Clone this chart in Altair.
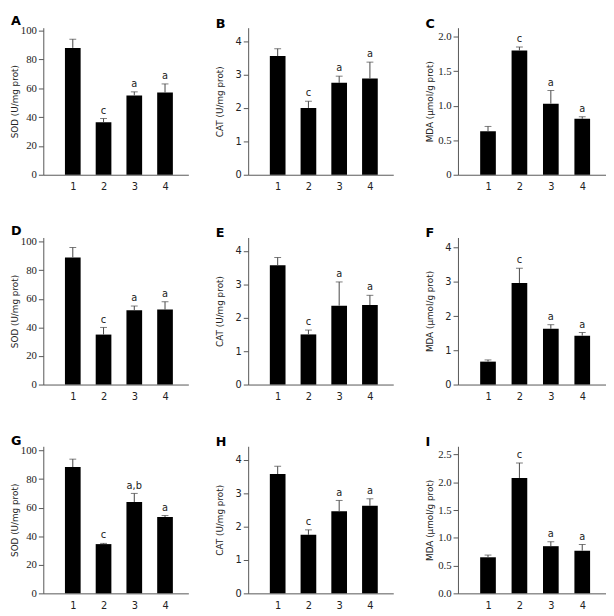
import altair as alt
import pandas as pd

groups = [1, 2, 3, 4]

a_mean = [88, 36.5, 55, 57]
a_err = [6, 2.5, 2.5, 6]
b_mean = [3.55, 2.0, 2.75, 2.88]
b_err = [0.22, 0.2, 0.2, 0.49]
c_mean = [0.63, 1.80, 1.03, 0.81]
c_err = [0.07, 0.05, 0.19, 0.03]
d_mean = [89, 35, 52, 52.5]
d_err = [7, 5, 3, 5.5]
e_mean = [3.57, 1.5, 2.36, 2.38]
e_err = [0.23, 0.13, 0.71, 0.29]
f_mean = [0.67, 2.97, 1.63, 1.43]
f_err = [0.05, 0.43, 0.12, 0.09]
g_mean = [88.5, 34.5, 64, 53.5]
g_err = [5.5, 0.5, 6, 1]
h_mean = [3.57, 1.75, 2.46, 2.62]
h_err = [0.23, 0.15, 0.32, 0.21]
i_mean = [0.65, 2.08, 0.85, 0.77]
i_err = [0.04, 0.27, 0.08, 0.11]

letters_std = ["", "c", "a", "a"]
letters_g = ["", "c", "a,b", "a"]

sod_ticks = [0, 20, 40, 60, 80, 100]
cat_ticks = [0, 1, 2, 3, 4]
mda_c_ticks = [0, 0.5, 1.0, 1.5, 2.0]
mda_f_ticks = [0, 1, 2, 3, 4]
mda_i_ticks = [0, 0.5, 1.0, 1.5, 2.0, 2.5]

SOD = "SOD (U/mg prot)"
CAT = "CAT (U/mg prot)"
MDA = "MDA (\u03bcmol/g prot)"

SERIF = "Liberation Serif"
SANS = "DejaVu Sans"
AX = "#555555"
TXT = "#222222"


def panel(label, ytitle, means, errs, letters, ymax, ticks, tickfont, label_expr, w=148):
    df = pd.DataFrame({"g": groups, "m": means, "e": errs, "t": letters})
    df["u"] = df["m"] + df["e"]
    base = alt.Chart(df)
    xs = alt.Scale(domain=[0.2, 4.6], nice=False, zero=False)
    ys = alt.Scale(domain=[0, ymax], nice=False)
    xa = alt.Axis(values=groups, ticks=False, grid=False, labelPadding=7, title=None,
                  format="d", labelFont=SANS, labelFontSize=10, labelOverlap=False,
                  labelColor=TXT, domainColor=AX)
    ya = alt.Axis(values=ticks, grid=False, title=ytitle, labelExpr=label_expr,
                  labelFont=tickfont, labelFontSize=11 if tickfont == SERIF else 10,
                  labelColor=TXT, labelOverlap=False, labelFlush=False,
                  tickSize=5, tickColor=AX, domainColor=AX, labelPadding=2,
                  minExtent=23, maxExtent=23, titlePadding=1, titleFont=SANS,
                  titleFontSize=9, titleFontWeight="normal", titleColor=TXT)
    x = alt.X("g:Q", scale=xs, axis=xa)
    bars = base.mark_bar(color="black", width=16).encode(
        x=x, y=alt.Y("m:Q", scale=ys, axis=ya))
    rule = base.mark_rule(color="#444444", strokeWidth=1).encode(
        x=x, y=alt.Y("m:Q", scale=ys, axis=ya), y2="u:Q")
    cap = base.mark_tick(orient="horizontal", size=7, thickness=1, color="#444444").encode(
        x=x, y=alt.Y("u:Q", scale=ys, axis=ya))
    txt = base.mark_text(baseline="bottom", dy=-3, font=SANS, fontSize=10, color=TXT).encode(
        x=x, y=alt.Y("u:Q", scale=ys, axis=ya), text="t:N")
    return alt.layer(bars, rule, cap, txt).properties(
        width=w, height=150,
        title=alt.TitleParams(label, anchor="start", frame="group", dx=-33, offset=-3,
                              fontSize=13, font=SANS, fontWeight="bold", color="black"))


fmt_int = "format(datum.value, 'd')"
fmt_c = "datum.value == 0 ? '0' : format(datum.value, '.1f')"
fmt_i = "format(datum.value, '.1f')"


def row(p1, p2, p3):
    return alt.hconcat(alt.hconcat(p1, p2, spacing=28), p3, spacing=33)


row1 = row(
    panel("A", SOD, a_mean, a_err, letters_std, 102, sod_ticks, SERIF, fmt_int),
    panel("B", CAT, b_mean, b_err, letters_std, 4.4, cat_ticks, SANS, fmt_int),
    panel("C", MDA, c_mean, c_err, letters_std, 2.13, mda_c_ticks, SERIF, fmt_c, w=151))
row2 = row(
    panel("D", SOD, d_mean, d_err, letters_std, 103, sod_ticks, SERIF, fmt_int),
    panel("E", CAT, e_mean, e_err, letters_std, 4.4, cat_ticks, SANS, fmt_int),
    panel("F", MDA, f_mean, f_err, letters_std, 4.3, mda_f_ticks, SANS, fmt_int, w=151))
row3 = row(
    panel("G", SOD, g_mean, g_err, letters_g, 103, sod_ticks, SERIF, fmt_int),
    panel("H", CAT, h_mean, h_err, letters_std, 4.4, cat_ticks, SANS, fmt_int),
    panel("I", MDA, i_mean, i_err, letters_std, 2.65, mda_i_ticks, SERIF, fmt_i, w=151))

chart = alt.vconcat(row1, row2, row3, spacing=34).properties(
    padding={"left": 3, "top": 0, "right": 0, "bottom": 0},
    background="white",
).configure_view(stroke=None)

chart.save("out.html", embed_options={"renderer": "svg", "actions": False})
